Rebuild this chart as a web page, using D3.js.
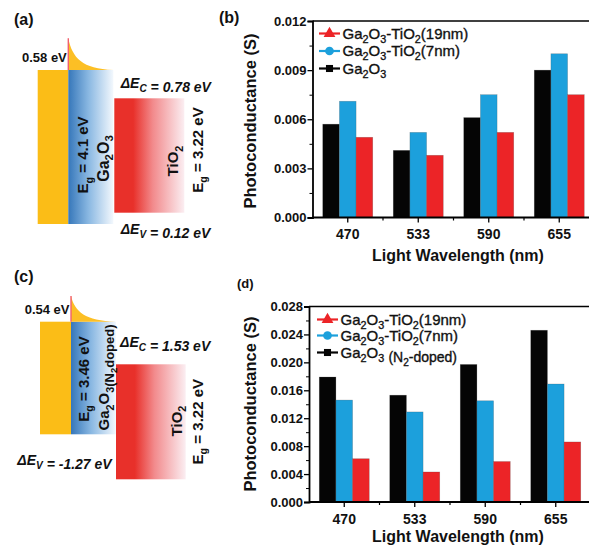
<!DOCTYPE html>
<html><head><meta charset="utf-8">
<script src="https://cdn.jsdelivr.net/npm/d3@7"></script>
<style>
html,body{margin:0;padding:0;background:#fff;}
svg{display:block;font-family:Arial,"Liberation Sans",sans-serif;}
</style></head>
<body>
<svg id="fig" width="589" height="549"></svg>
<script>
// ---------------- DATA ----------------
const categories = ["470", "533", "590", "655"];
// panel (b)
const bGa2O3      = [0.0057, 0.0041, 0.0061, 0.0090];
const bTiO2_7nm   = [0.0071, 0.0052, 0.0075, 0.0100];
const bTiO2_19nm  = [0.0049, 0.0038, 0.0052, 0.0075];
const bTicks      = [0, 0.003, 0.006, 0.009, 0.012];
// panel (d)
const dGa2O3N     = [0.0179, 0.0153, 0.0197, 0.0246];
const dTiO2_7nm   = [0.0146, 0.0129, 0.0145, 0.0169];
const dTiO2_19nm  = [0.0062, 0.0043, 0.0058, 0.0086];
const dTicks      = [0, 0.004, 0.008, 0.012, 0.016, 0.020, 0.024, 0.028];
// legend labels ("_" marks a subscript character)
const legendB = ["Ga_2O_3-TiO_2(19nm)", "Ga_2O_3-TiO_2(7nm)", "Ga_2O_3"];
const legendD = ["Ga_2O_3-TiO_2(19nm)", "Ga_2O_3-TiO_2(7nm)", "Ga_2O_3 (N_2-doped)"];
// band diagram labels
const diagA = {barrier: "0.58 eV", dEc: "0.78", dEv: "0.12", egL: "4.1", egR: "3.22"};
const diagC = {barrier: "0.54 eV", dEc: "1.53", dEv: "-1.27", egL: "3.46", egR: "3.22"};

const COL = {black: "#050505", blue: "#1ca0dc", red: "#ec2427", yellow: "#fbbd17"};

const svg = d3.select("#fig");
svg.append("rect").attr("width", 589).attr("height", 549).attr("fill", "#fff");

// rich text helper: "_x" -> subscript x
function rich(sel, str, size) {
  const parts = [];
  for (let i = 0; i < str.length; i++) {
    if (str[i] === "_" && i + 1 < str.length) { parts.push({t: str[i + 1], sub: true}); i++; }
    else {
      if (parts.length && !parts[parts.length - 1].sub) parts[parts.length - 1].t += str[i];
      else parts.push({t: str[i], sub: false});
    }
  }
  let shifted = 0;
  parts.forEach(p => {
    const ts = sel.append("tspan").text(p.t);
    if (p.sub) {
      ts.attr("font-size", size * 0.72).attr("dy", (size * 0.28) - shifted);
      shifted = size * 0.28;
    } else {
      ts.attr("font-size", size).attr("dy", -shifted);
      shifted = 0;
    }
  });
  return sel;
}

// ---------------- BAR CHARTS ----------------
function barChart(cfg) {
  const g = svg.append("g");
  const step = 70.5;
  const x = d3.scaleBand().domain(categories).range([cfg.x0, cfg.x0 + step * categories.length]);
  const inner = d3.scaleBand().domain([0, 1, 2]).range([10.25, 60.25]);
  const y = d3.scaleLinear().domain([0, cfg.yMax]).range([cfg.yBot, cfg.yTop]);
  const series = [
    {vals: cfg.s0, color: COL.black},
    {vals: cfg.s1, color: COL.blue},
    {vals: cfg.s2, color: COL.red}
  ];
  series.forEach((s, si) => {
    g.selectAll(null).data(s.vals).enter().append("rect")
      .attr("x", (d, i) => x(categories[i]) + inner(si))
      .attr("width", inner.bandwidth())
      .attr("y", d => y(d))
      .attr("height", d => y(0) - y(d))
      .attr("fill", s.color)
      .attr("stroke", "#444").attr("stroke-opacity", 0.35).attr("stroke-width", 0.6);
  });
  // top frame line
  g.append("line").attr("x1", cfg.x0).attr("x2", 589).attr("y1", y(cfg.yMax)).attr("y2", y(cfg.yMax))
    .attr("stroke", "#000").attr("stroke-width", 1.6);
  // y axis
  const ya = g.append("g").attr("transform", `translate(${cfg.x0},0)`)
    .call(d3.axisLeft(y).tickValues(cfg.ticks).tickFormat(d3.format(".3f")).tickSize(5).tickPadding(1));
  const minor = cfg.ticks.slice(0, -1).map((t, i) => (t + cfg.ticks[i + 1]) / 2);
  g.append("g").attr("transform", `translate(${cfg.x0},0)`)
    .call(d3.axisLeft(y).tickValues(minor).tickFormat("").tickSize(3))
    .select(".domain").remove();
  ya.select(".domain").attr("stroke-width", 1.8);
  ya.selectAll(".tick line").attr("stroke-width", 1.3);
  ya.selectAll("text").attr("font-size", 13).attr("font-weight", "bold").attr("fill", "#111");
  // x axis
  const xa = g.append("g").attr("transform", `translate(0,${cfg.yBot})`)
    .call(d3.axisBottom(x).tickSize(5).tickPadding(4).tickSizeOuter(0));
  xa.select(".domain").attr("stroke-width", 1.8).attr("d", `M${cfg.x0},0H589`);
  xa.selectAll(".tick line").attr("stroke-width", 1.3);
  xa.selectAll("text").attr("font-size", 14).attr("font-weight", "bold").attr("fill", "#111")
    .attr("dy", "0.9em");
  g.selectAll(null).data(categories.slice(1)).enter().append("line")
    .attr("x1", d => x(d)).attr("x2", d => x(d))
    .attr("y1", cfg.yBot).attr("y2", cfg.yBot + 3)
    .attr("stroke", "#000").attr("stroke-width", 1.2);
  // axis titles
  g.append("text").attr("transform", `translate(${cfg.ytX},${cfg.ytY}) rotate(-90)`)
    .attr("text-anchor", "middle").attr("dominant-baseline", "central")
    .attr("font-size", 16.5).attr("font-weight", "bold").attr("fill", "#111")
    .text("Photoconductance (S)");
  g.append("text").attr("x", 458).attr("y", cfg.xtY).attr("text-anchor", "middle")
    .attr("font-size", 16).attr("font-weight", "bold").attr("fill", "#111")
    .text("Light Wavelength (nm)");
  // legend
  const marks = [
    {color: COL.red, sym: d3.symbolTriangle, size: 60},
    {color: COL.blue, sym: d3.symbolCircle, size: 60},
    {color: COL.black, sym: d3.symbolSquare, size: 50}
  ];
  cfg.legend.forEach((lab, i) => {
    const ly = cfg.legY[i];
    g.append("line").attr("x1", cfg.legX).attr("x2", cfg.legX + 21).attr("y1", ly).attr("y2", ly)
      .attr("stroke", marks[i].color).attr("stroke-width", 2.2);
    g.append("path").attr("d", d3.symbol().type(marks[i].sym).size(marks[i].size)())
      .attr("transform", `translate(${cfg.legX + 10.5},${ly})`).attr("fill", marks[i].color);
    const t = g.append("text").attr("x", cfg.legX + 23.5).attr("y", ly + 5)
      .attr("fill", "#111").attr("stroke", "#111").attr("stroke-width", 0.35).attr("font-size", 15);
    if (lab.includes(" (")) {
      const [a, b] = lab.split(" (");
      rich(t, a, 15);
      t.append("tspan").text(" ").attr("font-size", 15).attr("dy", 0);
      rich(t, "(" + b, 14);
    } else {
      rich(t, lab, 15);
    }
  });
}

barChart({x0: 312.5, yTop: 21, yBot: 217.5, yMax: 0.012, ticks: bTicks,
  s0: bGa2O3, s1: bTiO2_7nm, s2: bTiO2_19nm, ytX: 250, ytY: 121, xtY: 261,
  legend: legendB, legX: 319, legY: [33.5, 51, 68.5]});
barChart({x0: 309, yTop: 306.5, yBot: 502, yMax: 0.028, ticks: dTicks,
  s0: dGa2O3N, s1: dTiO2_7nm, s2: dTiO2_19nm, ytX: 250, ytY: 404, xtY: 542,
  legend: legendD, legX: 317, legY: [319.5, 335.5, 352.5]});

// ---------------- BAND DIAGRAMS ----------------
const defs = svg.append("defs");
const gb = defs.append("linearGradient").attr("id", "gBlue");
gb.append("stop").attr("offset", "0%").attr("stop-color", "#3677ba");
gb.append("stop").attr("offset", "45%").attr("stop-color", "#8ab8e2");
gb.append("stop").attr("offset", "100%").attr("stop-color", "#f3f8fd");
const gr = defs.append("linearGradient").attr("id", "gRed");
gr.append("stop").attr("offset", "0%").attr("stop-color", "#e8302a");
gr.append("stop").attr("offset", "27%").attr("stop-color", "#e8302a");
gr.append("stop").attr("offset", "55%").attr("stop-color", "#f28a8c");
gr.append("stop").attr("offset", "100%").attr("stop-color", "#fbeef2");

function diagram(L, D, nDoped) {
  const g = svg.append("g");
  g.append("rect").attr("x", L.yx0).attr("y", L.top).attr("width", L.bx0 - L.yx0).attr("height", L.bot - L.top)
    .attr("fill", COL.yellow);
  g.append("rect").attr("x", L.bx0).attr("y", L.top).attr("width", L.bx1 - L.bx0).attr("height", L.bot - L.top)
    .attr("fill", "url(#gBlue)");
  const h = L.top - L.bump;
  g.append("path").attr("d",
    `M${L.bx0},${L.bump} C${L.bx0 + 4},${L.bump + h * 0.62} ${L.bx0 + 14},${L.top - 1} ${L.bx1},${L.top} L${L.bx0},${L.top} Z`)
    .attr("fill", "#fcbf25");
  g.append("line").attr("x1", L.bx0).attr("x2", L.bx0).attr("y1", L.bump).attr("y2", L.top)
    .attr("stroke", "#f1606e").attr("stroke-width", 1.4);
  g.append("rect").attr("x", L.rx0).attr("y", L.rtop).attr("width", L.rx1 - L.rx0).attr("height", L.rbot - L.rtop)
    .attr("fill", "url(#gRed)");
  // labels
  g.append("text").attr("x", L.bx0 - 1.5).attr("y", L.barY + 4.5).attr("text-anchor", "end")
    .attr("font-size", 13).attr("font-weight", "bold").attr("fill", "#111").text(D.barrier);
  const de = (x, yy, sub, val) => {
    const t = g.append("text").attr("x", x).attr("y", yy + 5).attr("font-size", 14)
      .attr("font-weight", "bold").attr("font-style", "italic").attr("fill", "#111");
    rich(t, "ΔE_" + sub, 14);
    t.append("tspan").attr("dy", 0).text(" = " + val + " eV");
  };
  de(L.decX, L.decY, "C", D.dEc);
  de(L.devX, L.devY, "V", D.dEv);
  const rot = (cx, cy, size) => g.append("text").attr("transform", `translate(${cx},${cy}) rotate(-90)`)
      .attr("text-anchor", "middle").attr("y", size * 0.36)
      .attr("font-size", size).attr("font-weight", "bold").attr("fill", "#111");
  rich(rot(L.eg1X, L.eg1Y, 15), "E_g = " + D.egL + " eV", 15);
  const gaSize = nDoped ? 15 : 16;
  const ga = rot(L.gaX, L.gaY, gaSize);
  rich(ga, "Ga_2O_3", gaSize);
  if (nDoped) {
    ga.append("tspan").attr("font-size", 13).attr("dy", 0).text("(N");
    ga.append("tspan").attr("font-size", 9.5).attr("dy", 3.5).text("2");
    ga.append("tspan").attr("font-size", 13).attr("dy", -3.5).text("doped)");
  }
  rich(rot(L.tiX, L.tiY, 15), "TiO_2", 15);
  rich(rot(L.eg2X, L.eg2Y, 15), "E_g = " + D.egR + " eV", 15);
}

diagram({yx0: 37.7, bx0: 68.3, bx1: 113.3, top: 70, bot: 224, bump: 38.3,
  rx0: 114.3, rx1: 184.3, rtop: 98.3, rbot: 212.7, barY: 57,
  decX: 120.7, decY: 83, devX: 120.7, devY: 229,
  eg1X: 83, eg1Y: 155, gaX: 103, gaY: 158.5, tiX: 173, tiY: 161, eg2X: 197.7, eg2Y: 150}, diagA, false);
diagram({yx0: 40, bx0: 71, bx1: 116, top: 321.7, bot: 434.3, bump: 296,
  rx0: 116, rx1: 185.7, rtop: 364.3, rbot: 479.3, barY: 309.3,
  decX: 120, decY: 341.7, devX: 17.3, devY: 460,
  eg1X: 83.3, eg1Y: 379, gaX: 104, gaY: 377.5, tiX: 176.7, tiY: 421, eg2X: 197.7, eg2Y: 421.7}, diagC, true);

// panel labels
const panelLabels = [["(a)", 14, 25, 16], ["(b)", 219, 23, 16], ["(c)", 14, 282, 16], ["(d)", 237, 288, 13]];
panelLabels.forEach(([t, x, y, s]) => svg.append("text").attr("x", x).attr("y", y)
  .attr("font-size", s).attr("font-weight", "bold").attr("fill", "#111").text(t));
</script>
</body></html>
